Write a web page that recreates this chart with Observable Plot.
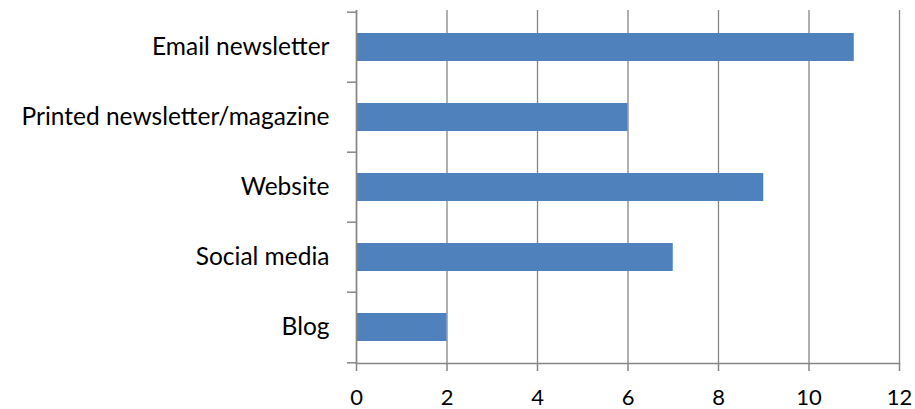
<!DOCTYPE html>
<html>
<head>
<meta charset="utf-8">
<script src="https://cdn.jsdelivr.net/npm/d3@7"></script>
<script src="https://cdn.jsdelivr.net/npm/@observablehq/plot@0.6"></script>
<style>
  html, body { margin: 0; padding: 0; background: #fff; }
</style>
</head>
<body>
<div id="chart"></div>
<script>
const categories = ["Email newsletter", "Printed newsletter/magazine", "Website", "Social media", "Blog"];
const values = [11, 6, 9, 7, 2];
const xTicks = [0, 2, 4, 6, 8, 10, 12];

const data = categories.map((c, i) => ({category: c, value: values[i]}));

const W = 915, H = 409;
const mTop = 10, mBottom = 46, mLeft = 356, mRight = 16;
const step = (H - mTop - mBottom) / categories.length;
const gray = "#868686";
const font = "Lato";
const fs = 24.5;
const fsX = 22;

const chart = Plot.plot({
  width: W,
  height: H,
  marginTop: mTop,
  marginBottom: mBottom,
  marginLeft: mLeft,
  marginRight: mRight,
  style: {fontFamily: font, fontSize: fs + "px", color: "#000", background: "#fff", overflow: "visible"},
  x: {domain: [0, 12], label: null},
  y: {domain: categories, paddingInner: 0.6, paddingOuter: 0.3, label: null},
  marks: [
    Plot.gridX(xTicks, {stroke: gray, strokeOpacity: 1, strokeWidth: 1.3}),
    Plot.barX(data, {y: "category", x: "value", fill: "#4F81BD"}),
    Plot.ruleX([0], {stroke: gray, strokeWidth: 1.5}),
    Plot.frame({anchor: "bottom", stroke: gray, strokeWidth: 1.5}),
    Plot.axisY({tickSize: 0, tickPadding: 27, fontSize: fs, fill: "#000", label: null}),
    Plot.axisY({tickSize: 9, text: null, stroke: gray, strokeWidth: 1.5, dy: -step / 2, label: null}),
    Plot.axisY({ticks: ["Blog"], tickSize: 9, text: null, stroke: gray, strokeWidth: 1.5, dy: step / 2, label: null}),
    Plot.axisX(xTicks, {tickSize: 8, tickPadding: 17.5, stroke: gray, strokeWidth: 1.5, fontSize: fsX, fill: "#000", label: null})
  ]
});
document.getElementById("chart").appendChild(chart);
</script>
</body>
</html>
